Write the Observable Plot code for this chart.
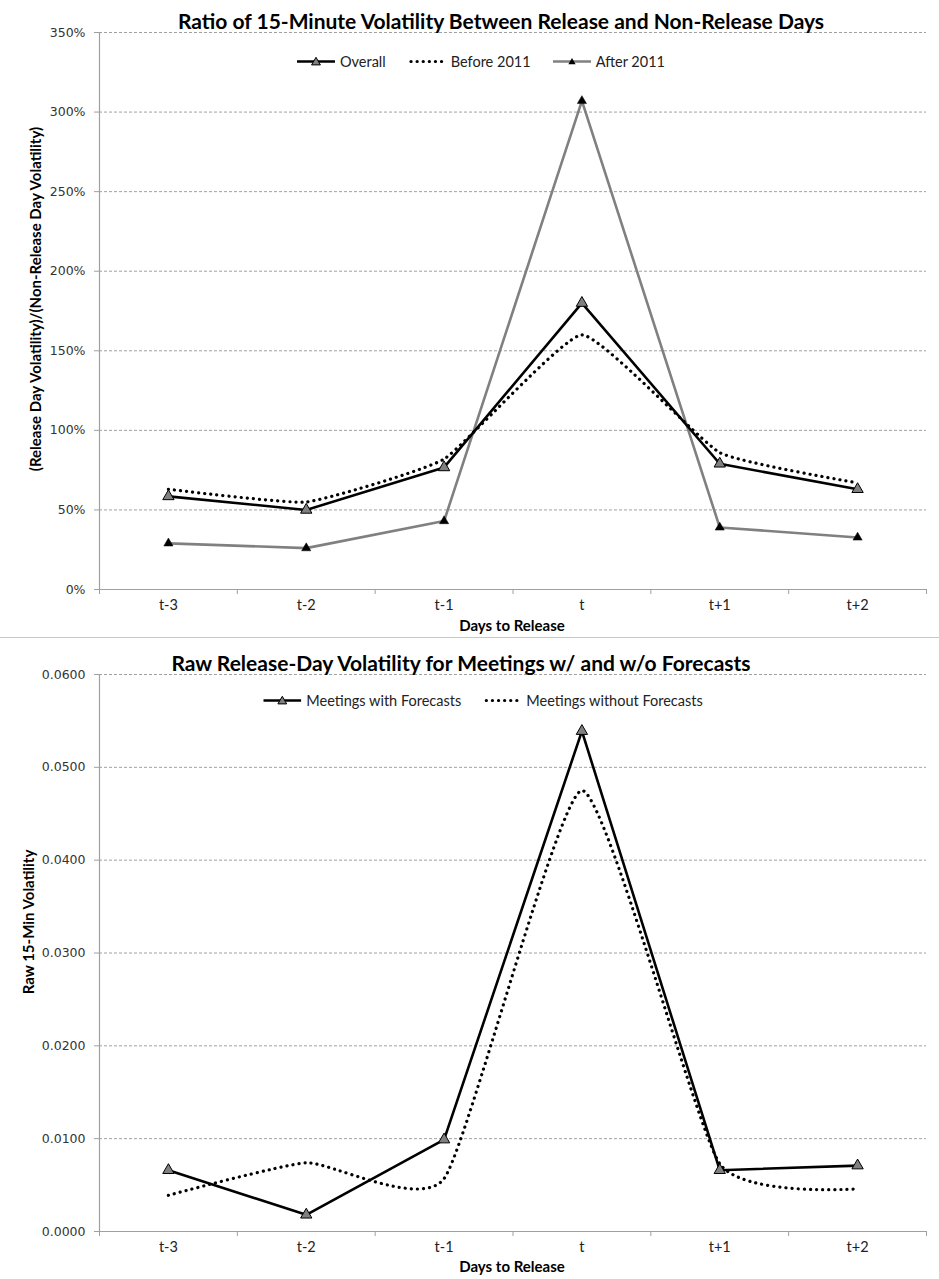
<!DOCTYPE html>
<html><head><meta charset="utf-8">
<script src="https://cdn.jsdelivr.net/npm/d3@7"></script>
<script src="https://cdn.jsdelivr.net/npm/@observablehq/plot@0.6"></script>
<style>
body{margin:0;background:#fff;}
#wrap{position:relative;width:939px;height:1279px;overflow:hidden;}
.panel{position:absolute;left:0;width:939px;}
.abs{position:absolute;white-space:nowrap;transform:translate(-50%,-50%);}
.title{font:bold 21px Lato, sans-serif;color:#000;}
.legend{font:14.5px Lato, sans-serif;color:#222;display:flex;align-items:center;}
.legend .item{display:flex;align-items:center;margin-right:22px;}
.legend .item:last-child{margin-right:0;}
.legend svg{margin-right:5px;}
.axtitle{font:bold 15px Lato, sans-serif;color:#000;}
.rot{transform:translate(-50%,-50%) rotate(-90deg);}
#sep{position:absolute;left:0;top:637px;width:939px;height:1px;background:#c8c8c8;}
</style></head>
<body><div id="wrap"></div>
<script>
// ---- data ----
const days = ["t-3","t-2","t-1","t","t+1","t+2"];
const overall    = [0.585, 0.50, 0.767, 1.80, 0.79, 0.63];
const before2011 = [0.63, 0.55, 0.82, 1.60, 0.86, 0.67];
const after2011  = [0.29, 0.26, 0.43, 3.07, 0.39, 0.327];
const withForecasts    = [0.0066, 0.0018, 0.0099, 0.0539, 0.0066, 0.0071];
const withoutForecasts = [0.0039, 0.0074, 0.0057, 0.0475, 0.0073, 0.0046];
const ratioTicks = [0, 0.5, 1, 1.5, 2, 2.5, 3, 3.5];
const rawTicks = [0, 0.01, 0.02, 0.03, 0.04, 0.05, 0.06];

const topTitle = "Ratio of 15-Minute Volatility Between Release and Non-Release Days";
const botTitle = "Raw Release-Day Volatility for Meetings w/ and w/o Forecasts";
const topYLabel = "(Release Day Volatility)/(Non-Release Day Volatility)";
const botYLabel = "Raw 15-Min Volatility";
const xLabel = "Days to Release";

const rows = days.map((d, i) => ({
  day: d, pos: i + 0.5,
  overall: overall[i], before: before2011[i], after: after2011[i],
  withF: withForecasts[i], withoutF: withoutForecasts[i]
}));
const boundaries = d3.range(days.length + 1);

function frameMarks(ticks, fmt) {
  return [
    Plot.gridY(ticks.slice(1), {stroke: "#a0a0a0", strokeOpacity: 1, strokeWidth: 1, strokeDasharray: "3 2"}),
    Plot.ruleY([0], {stroke: "#a0a0a0", strokeWidth: 1.2}),
    Plot.ruleX([0], {stroke: "#a0a0a0", strokeWidth: 1.2}),
    Plot.axisY(ticks, {tickSize: 5, tickFormat: () => "", stroke: "#a0a0a0", label: null}),
    Plot.axisY(ticks, {tickSize: 0, tickPadding: 14, tickFormat: fmt, fill: "#333", fontSize: 12.5, fontFamily: "DejaVu Sans", label: null}),
    Plot.axisX(boundaries, {tickSize: 5, tickFormat: () => "", stroke: "#a0a0a0", label: null}),
    Plot.axisX(rows.map(r => r.pos), {tickSize: 0, tickPadding: 10, tickFormat: p => days[Math.floor(p)], fill: "#222", fontSize: 14.5, fontFamily: "Lato", label: null})
  ];
}

const common = {width: 939, marginLeft: 99, marginRight: 13, marginBottom: 48,
  x: {type: "linear", domain: [0, days.length], axis: null},
  style: {background: "transparent", overflow: "visible"}};

const topPlot = Plot.plot({
  ...common, height: 637, marginTop: 32,
  y: {domain: [0, 3.5], axis: null},
  marks: [
    ...frameMarks(ratioTicks, d3.format(".0%")),
    Plot.line(rows, {x: "pos", y: "after", stroke: "#808080", strokeWidth: 2.6}),
    Plot.line(rows, {x: "pos", y: "before", stroke: "#000", strokeWidth: 3.2, strokeDasharray: "0.1 6", strokeLinecap: "round", curve: "cardinal", tension: 0.6}),
    Plot.line(rows, {x: "pos", y: "overall", stroke: "#000", strokeWidth: 2.6}),
    Plot.dot(rows, {x: "pos", y: "overall", symbol: "triangle", r: 4.2, fill: "#808080", stroke: "#000", strokeWidth: 1}),
    Plot.dot(rows, {x: "pos", y: "after", symbol: "triangle", r: 3.4, fill: "#000", stroke: "#000", strokeWidth: 0.5})
  ]
});

const botPlot = Plot.plot({
  ...common, height: 642, marginTop: 37,
  y: {domain: [0, 0.06], axis: null},
  marks: [
    ...frameMarks(rawTicks, d3.format(".4f")),
    Plot.line(rows, {x: "pos", y: "withoutF", stroke: "#000", strokeWidth: 3.2, strokeDasharray: "0.1 6", strokeLinecap: "round", curve: "cardinal", tension: 0.5}),
    Plot.line(rows, {x: "pos", y: "withF", stroke: "#000", strokeWidth: 2.6}),
    Plot.dot(rows, {x: "pos", y: "withF", symbol: "triangle", r: 4.2, fill: "#808080", stroke: "#000", strokeWidth: 1})
  ]
});

const wrap = document.getElementById("wrap");
const p1 = document.createElement("div"); p1.className = "panel"; p1.style.top = "0px"; p1.appendChild(topPlot); wrap.appendChild(p1);
const sep = document.createElement("div"); sep.id = "sep"; wrap.appendChild(sep);
const p2 = document.createElement("div"); p2.className = "panel"; p2.style.top = "637px"; p2.appendChild(botPlot); wrap.appendChild(p2);

function addText(cls, text, x, y) {
  const el = document.createElement("div");
  el.className = "abs " + cls; el.textContent = text;
  el.style.left = x + "px"; el.style.top = y + "px";
  wrap.appendChild(el); return el;
}
function swatch(kind) {
  const line = kind === "dotted"
    ? '<line x1="3" y1="6" x2="37" y2="6" stroke="#000" stroke-width="3.2" stroke-dasharray="0.1 6" stroke-linecap="round"/>'
    : `<line x1="0" y1="6" x2="38" y2="6" stroke="${kind === "gray" ? "#808080" : "#000"}" stroke-width="2.6"/>`;
  const mark = kind === "black" ? '<path d="M19,1.8 L23.4,9.4 L14.6,9.4 Z" fill="#808080" stroke="#000" stroke-width="1"/>'
    : kind === "gray" ? '<path d="M19,2.5 L22.6,8.8 L15.4,8.8 Z" fill="#000"/>' : '';
  return `<svg width="38" height="12" viewBox="0 0 38 12">${line}${mark}</svg>`;
}
function addLegend(items, x, y) {
  const el = document.createElement("div");
  el.className = "abs legend";
  el.innerHTML = items.map(([k, t]) => `<span class="item">${swatch(k)}<span>${t}</span></span>`).join("");
  el.style.left = x + "px"; el.style.top = y + "px";
  wrap.appendChild(el);
}

addText("title", topTitle, 501, 20);
addLegend([["black", "Overall"], ["dotted", "Before 2011"], ["gray", "After 2011"]], 481, 61);
addText("axtitle rot", topYLabel, 35, 299);
addText("axtitle", xLabel, 512, 625);

addText("title", botTitle, 461, 662);
addLegend([["black", "Meetings with Forecasts"], ["dotted", "Meetings without Forecasts"]], 483, 700);
addText("axtitle rot", botYLabel, 28, 922);
addText("axtitle", xLabel, 512, 1266);
</script>
</body></html>
